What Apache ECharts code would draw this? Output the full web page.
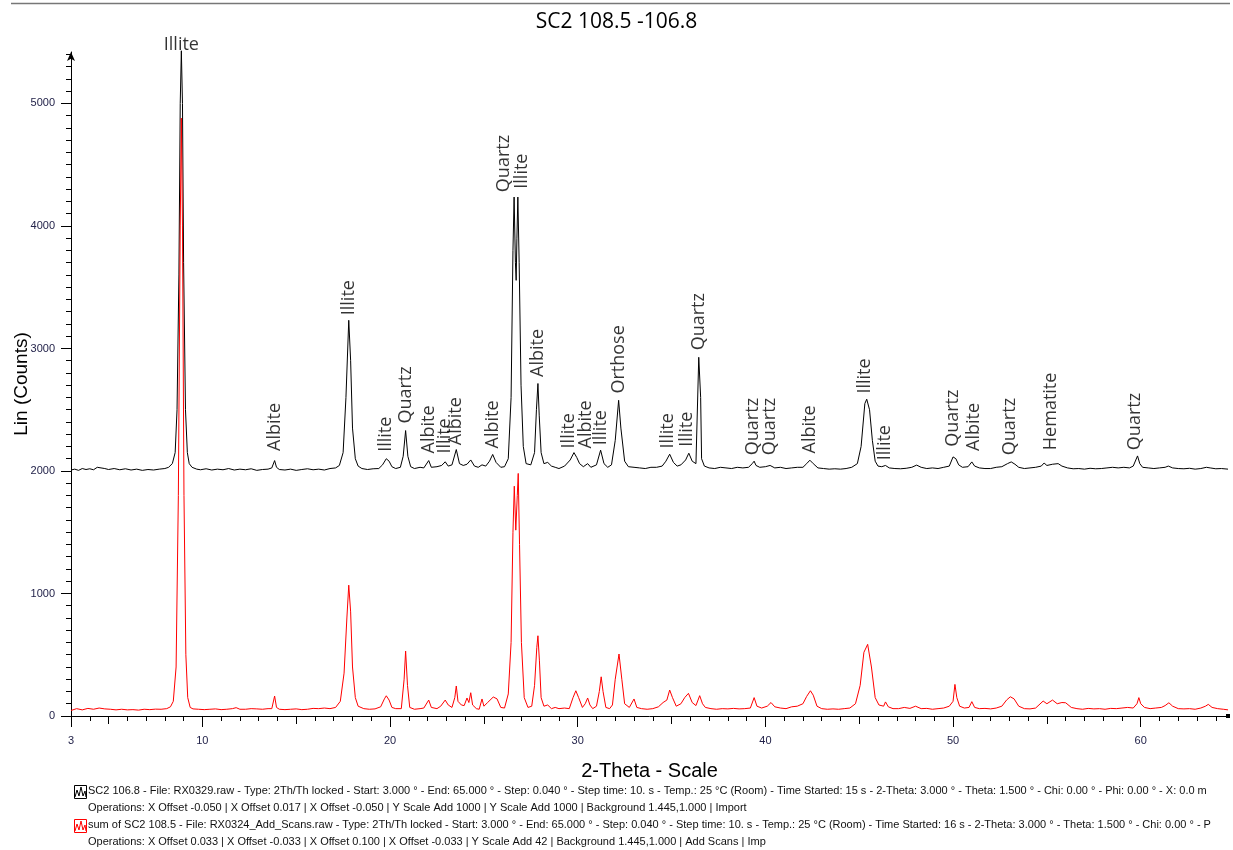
<!DOCTYPE html>
<html>
<head>
<meta charset="utf-8">
<script src="https://cdn.jsdelivr.net/npm/echarts@6/dist/echarts.min.js"></script>
<style>
html,body{margin:0;padding:0;background:#fff;}
#chart{width:1233px;height:850px;}
</style>
</head>
<body>
<div id="chart"></div>
<script>
// ---------- DATA ----------
const chartTitle = 'SC2 108.5 -106.8';
const xName = '2-Theta - Scale';
const yName = 'Lin (Counts)';
const xLabelValues = [3, 10, 20, 30, 40, 50, 60];
const yLabelValues = [0, 1000, 2000, 3000, 4000, 5000];

// SC2 106.8 (offset +2000) : [2-theta, counts]
const blackPoints = [
[3.0,2008],[3.2,2015],[3.4,2005],[3.6,2020],[3.8,2012],[4.0,2018],[4.2,2010],[4.4,2030],[4.5,2045],[4.6,2025],[4.8,2020],[5.0,2012],[5.3,2020],[5.6,2010],[5.9,2018],[6.2,2008],[6.5,2015],[6.8,2005],[7.1,2012],[7.4,2008],[7.7,2015],[8.0,2020],[8.2,2030],[8.4,2060],[8.55,2150],[8.65,2500],[8.75,3600],[8.82,5000],[8.88,5430],[8.94,5000],[9.0,3700],[9.1,2500],[9.2,2150],[9.3,2060],[9.45,2030],[9.7,2015],
[9.9,2010],[10.2,2018],[10.5,2008],[10.8,2015],[11.1,2010],[11.4,2020],[11.7,2008],[12.0,2015],[12.3,2010],[12.6,2018],[12.9,2005],[13.2,2012],[13.5,2015],[13.7,2025],[13.85,2085],[13.95,2030],[14.1,2012],[14.4,2008],[14.7,2015],[15.0,2005],[15.3,2012],[15.6,2018],[15.9,2010],[16.2,2015],[16.5,2008],[16.8,2020],[17.1,2025],[17.3,2045],[17.5,2150],[17.65,2600],[17.8,3230],[17.9,2900],[18.0,2350],[18.15,2100],[18.3,2040],[18.5,2020],[18.8,2012],[19.1,2018],[19.4,2020],[19.6,2050],[19.8,2100],[19.95,2080],[20.1,2035],[20.3,2020],[20.55,2030],[20.7,2120],[20.83,2330],[20.95,2120],[21.1,2035],[21.3,2020],[21.6,2030],[21.8,2025],[22.06,2085],[22.2,2030],[22.5,2035],[22.75,2045],[22.94,2075],[23.1,2040],[23.3,2050],[23.53,2175],[23.7,2060],[23.9,2045],[24.1,2055],[24.3,2090],[24.5,2040],[24.7,2030],[24.9,2050],[25.1,2040],[25.3,2080],[25.47,2135],[25.65,2070],[25.9,2030],[26.1,2035],[26.3,2100],[26.45,2600],[26.55,3800],[26.61,4236],[26.68,3700],[26.72,3556],[26.76,3900],[26.81,4236],[26.88,3700],[26.98,2700],[27.1,2200],[27.25,2060],[27.5,2050],[27.7,2150],[27.8,2500],[27.88,2714],[27.95,2450],[28.05,2150],[28.2,2060],[28.4,2070],[28.6,2040],[28.8,2030],[29.0,2020],[29.3,2040],[29.6,2090],[29.8,2150],[29.95,2110],[30.1,2060],[30.3,2035],[30.53,2060],[30.7,2030],[31.0,2050],[31.22,2170],[31.4,2060],[31.6,2030],[31.8,2050],[32.0,2250],[32.18,2577],[32.3,2350],[32.5,2080],[32.7,2035],[33.0,2030],[33.3,2025],[33.6,2020],[33.9,2030],[34.2,2030],[34.5,2040],[34.7,2080],[34.9,2137],[35.1,2070],[35.3,2040],[35.5,2050],[35.75,2090],[35.92,2145],[36.1,2080],[36.3,2060],[36.45,2928],[36.55,2600],[36.6,2100],[36.75,2040],[37.0,2025],[37.3,2020],[37.6,2030],[37.9,2025],[38.2,2020],[38.5,2030],[38.8,2025],[39.1,2030],[39.3,2060],[39.4,2080],[39.5,2045],[39.7,2030],[40.0,2035],[40.25,2045],[40.5,2025],[40.8,2030],[41.1,2020],[41.4,2025],[41.7,2030],[42.0,2030],[42.2,2060],[42.37,2088],[42.55,2060],[42.8,2025],[43.1,2020],[43.4,2015],[43.7,2018],[44.0,2015],[44.3,2020],[44.6,2030],[44.9,2060],[45.1,2200],[45.3,2550],[45.4,2586],[45.55,2500],[45.7,2250],[45.85,2080],[46.0,2040],[46.2,2035],[46.4,2045],[46.6,2025],[46.9,2020],[47.2,2018],[47.5,2022],[47.8,2030],[48.06,2048],[48.3,2030],[48.6,2020],[48.9,2025],[49.2,2020],[49.5,2030],[49.8,2040],[50.0,2115],[50.05,2129],[50.15,2100],[50.3,2050],[50.5,2030],[50.8,2035],[51.0,2074],[51.15,2040],[51.4,2025],[51.7,2020],[52.0,2020],[52.3,2030],[52.6,2035],[52.9,2060],[53.1,2074],[53.3,2055],[53.5,2030],[53.8,2020],[54.1,2025],[54.4,2030],[54.7,2040],[54.85,2065],[55.0,2045],[55.3,2055],[55.6,2060],[55.8,2040],[56.1,2025],[56.4,2018],[56.7,2020],[57.0,2015],[57.3,2022],[57.6,2018],[57.9,2020],[58.2,2025],[58.5,2030],[58.8,2025],[59.1,2030],[59.4,2025],[59.6,2040],[59.83,2123],[59.95,2060],[60.1,2030],[60.4,2025],[60.7,2020],[61.0,2025],[61.3,2030],[61.47,2040],[61.7,2025],[62.0,2020],[62.3,2018],[62.6,2022],[62.9,2015],[63.2,2020],[63.5,2030],[63.7,2025],[64.0,2018],[64.3,2020],[64.65,2015]
];

// sum of SC2 108.5 : [2-theta, counts]
const redPoints = [
[3.0,45],[3.3,60],[3.6,50],[3.9,62],[4.2,55],[4.5,65],[4.8,58],[5.1,55],[5.4,50],[5.7,55],[6.0,50],[6.3,52],[6.6,48],[6.9,55],[7.2,52],[7.5,56],[7.8,55],[8.1,60],[8.3,75],[8.45,120],[8.6,400],[8.72,1800],[8.82,4000],[8.88,4880],[8.94,4000],[9.02,1800],[9.12,500],[9.22,150],[9.35,70],[9.5,58],[9.8,55],[10.1,52],[10.4,55],[10.7,58],[11.0,52],[11.3,55],[11.6,60],[11.8,68],[12.0,55],[12.3,55],[12.6,60],[12.9,58],[13.2,55],[13.5,60],[13.7,60],[13.85,163],[13.95,70],[14.1,55],[14.4,52],[14.7,55],[15.0,58],[15.3,52],[15.6,55],[15.9,62],[16.2,60],[16.5,65],[16.8,60],[17.1,70],[17.35,120],[17.55,350],[17.7,800],[17.8,1068],[17.9,850],[18.0,400],[18.15,150],[18.3,80],[18.6,60],[18.9,55],[19.2,58],[19.5,75],[19.7,140],[19.8,165],[19.95,130],[20.1,70],[20.3,60],[20.6,60],[20.75,300],[20.83,530],[20.93,250],[21.05,70],[21.3,55],[21.6,60],[21.8,65],[22.06,130],[22.2,70],[22.5,60],[22.7,80],[22.94,130],[23.1,90],[23.3,70],[23.45,150],[23.53,245],[23.62,120],[23.8,90],[23.95,85],[24.1,147],[24.2,110],[24.3,190],[24.4,90],[24.6,60],[24.75,55],[24.9,139],[25.0,80],[25.2,110],[25.5,155],[25.7,140],[25.9,70],[26.1,65],[26.3,180],[26.45,600],[26.55,1500],[26.62,1876],[26.7,1517],[26.78,1800],[26.83,1980],[26.9,1400],[27.0,600],[27.15,150],[27.35,70],[27.55,80],[27.7,250],[27.82,560],[27.88,655],[27.96,450],[28.05,150],[28.2,80],[28.4,90],[28.6,60],[28.8,70],[29.0,60],[29.3,65],[29.55,60],[29.75,150],[29.9,206],[30.05,150],[30.25,70],[30.4,100],[30.53,147],[30.65,90],[30.8,60],[31.0,80],[31.15,200],[31.25,320],[31.35,200],[31.5,70],[31.7,60],[31.85,90],[32.0,300],[32.2,506],[32.35,300],[32.5,100],[32.75,70],[33.0,139],[33.15,70],[33.4,60],[33.7,55],[34.0,60],[34.3,75],[34.55,110],[34.75,130],[34.9,212],[35.05,150],[35.25,80],[35.5,100],[35.7,150],[35.9,185],[36.1,110],[36.3,85],[36.5,166],[36.65,100],[36.8,70],[37.1,60],[37.4,55],[37.7,60],[38.0,58],[38.3,62],[38.6,58],[38.9,60],[39.2,65],[39.4,150],[39.55,80],[39.8,65],[40.1,80],[40.3,110],[40.5,75],[40.8,65],[41.1,60],[41.4,75],[41.7,80],[42.0,100],[42.2,160],[42.4,206],[42.55,170],[42.75,80],[43.0,60],[43.3,55],[43.6,58],[43.9,55],[44.2,60],[44.5,65],[44.8,100],[45.05,250],[45.25,520],[45.45,585],[45.65,400],[45.85,150],[46.05,90],[46.3,80],[46.4,115],[46.55,75],[46.8,60],[47.1,60],[47.4,70],[47.7,62],[48.0,80],[48.3,60],[48.6,62],[48.9,55],[49.2,60],[49.5,65],[49.8,80],[50.0,120],[50.1,258],[50.2,150],[50.35,80],[50.6,65],[50.85,70],[51.0,117],[51.15,70],[51.4,60],[51.7,62],[52.0,58],[52.3,65],[52.6,80],[52.85,130],[53.05,157],[53.25,140],[53.5,80],[53.8,60],[54.1,58],[54.4,65],[54.8,122],[55.0,100],[55.3,130],[55.55,100],[55.8,110],[56.0,108],[56.3,70],[56.6,60],[56.9,55],[57.2,62],[57.5,58],[57.8,60],[58.1,55],[58.4,62],[58.7,60],[59.0,65],[59.3,70],[59.6,65],[59.8,100],[59.9,150],[60.0,100],[60.2,70],[60.5,60],[60.8,65],[61.1,70],[61.3,85],[61.5,108],[61.7,80],[62.0,60],[62.3,58],[62.6,60],[62.9,55],[63.2,65],[63.45,80],[63.6,95],[63.8,70],[64.1,60],[64.4,55],[64.65,50]
];

// phase annotations: 2-theta of label, counts at label foot, mineral
const annotX = [8.88,13.85,17.8,19.8,20.83,22.06,22.94,23.53,25.47,26.08,27.03,27.88,29.53,30.43,31.26,32.19,34.82,35.83,36.47,39.35,40.24,42.37,45.31,46.38,49.98,51.09,53.04,55.21,59.7];
const annotY = [5420,2164,3271,2156,2387,2143,2143,2210,2184,4276,4304,2768,2184,2184,2210,2632,2184,2197,2985,2129,2129,2143,2632,2088,2197,2164,2129,2170,2170];
const annotText = ['Illite','Albite','Illite','Illite','Quartz','Albite','Illite','Albite','Albite','Quartz','Illite','Albite','Illite','Albite','Illite','Orthose','Illite','Illite','Quartz','Quartz','Quartz','Albite','Illite','Illite','Quartz','Albite','Quartz','Hematite','Quartz'];

const legendLines = [
  'SC2 106.8 - File: RX0329.raw - Type: 2Th/Th locked - Start: 3.000 ° - End: 65.000 ° - Step: 0.040 ° - Step time: 10. s - Temp.: 25 °C (Room) - Time Started: 15 s - 2-Theta: 3.000 ° - Theta: 1.500 ° - Chi: 0.00 ° - Phi: 0.00 ° - X: 0.0 m',
  'Operations: X Offset -0.050 | X Offset 0.017 | X Offset -0.050 | Y Scale Add 1000 | Y Scale Add 1000 | Background 1.445,1.000 | Import',
  'sum of SC2 108.5 - File: RX0324_Add_Scans.raw - Type: 2Th/Th locked - Start: 3.000 ° - End: 65.000 ° - Step: 0.040 ° - Step time: 10. s - Temp.: 25 °C (Room) - Time Started: 16 s - 2-Theta: 3.000 ° - Theta: 1.500 ° - Chi: 0.00 ° - P',
  'Operations: X Offset 0.033 | X Offset -0.033 | X Offset 0.100 | X Offset -0.033 | Y Scale Add 42 | Background 1.445,1.000 | Add Scans | Imp'
];
const legendColors = ['#000000', null, '#ff0000', null];

// ---------- CHART ----------
const X_MIN = 3, X_MAX = 64.65, Y_MIN = 0, Y_MAX = 5420;
const chart = echarts.init(document.getElementById('chart'), null, {renderer: 'canvas'});

const range = (a, b, s) => { const r = []; for (let v = a; v <= b + 1e-9; v += s) r.push(+v.toFixed(3)); return r; };
const yMinor = range(100, 5400, 100).filter(v => v % 1000 !== 0);
const xMinor = range(4, 64, 1).filter(v => v % 5 !== 0);
const xMid = range(5, 60, 5).filter(v => v % 10 !== 0);

const tickLabelStyle = {fontFamily: 'Liberation Sans', fontSize: 11, color: '#23234a', formatter: v => String(v)};

const annotData = annotX.map((x, i) => {
  const item = {value: [x, annotY[i]], name: annotText[i]};
  if (annotY[i] >= Y_MAX) {
    item.label = {rotate: 0, position: 'top', align: 'center', verticalAlign: 'bottom', distance: -2};
  }
  return item;
});

const graphics = [
  {type: 'line', shape: {x1: 11, y1: 3.5, x2: 1230, y2: 3.5}, style: {stroke: '#777', lineWidth: 1.5}}
];
const lineY0 = 792, lineDy = 17;
legendLines.forEach((t, i) => {
  const y = lineY0 + i * lineDy;
  graphics.push({type: 'text', left: 88, top: y - 7, style: {text: t, font: '11px "Liberation Sans"', fill: '#111'}});
  if (legendColors[i]) {
    const c = legendColors[i];
    graphics.push({type: 'rect', shape: {x: 74.5, y: y - 6.5, width: 12, height: 13}, style: {fill: 'none', stroke: c, lineWidth: 1}});
    graphics.push({type: 'polyline', shape: {points: [[75, y + 5], [77, y - 2], [79, y + 4], [81, y - 5], [83, y + 4], [85, y - 1], [86, y + 5]]}, style: {fill: 'none', stroke: c, lineWidth: 1}});
  }
});

const option = {
  backgroundColor: '#fff',
  animation: false,
  title: {
    text: chartTitle, left: 'center', top: 7,
    textStyle: {fontFamily: 'Open Sans', fontSize: 21, fontWeight: 'normal', color: '#000'}
  },
  grid: {left: 71, right: 5, top: 52, bottom: 134, containLabel: false, outerBoundsMode: 'none'},
  xAxis: [
    {
      type: 'value', min: X_MIN, max: X_MAX, position: 'bottom',
      name: xName, nameLocation: 'middle', nameGap: 45, nameMoveOverlap: false,
      nameTextStyle: {fontFamily: 'Liberation Sans', fontSize: 20, color: '#000'},
      axisLine: {show: true, symbol: ['none', 'rect'], symbolSize: [4, 4], lineStyle: {color: '#000', width: 1}},
      axisTick: {show: true, length: 11, customValues: xLabelValues, lineStyle: {color: '#000'}},
      axisLabel: {show: true, customValues: xLabelValues, margin: 19, ...tickLabelStyle},
      splitLine: {show: false}
    },
    {
      type: 'value', min: X_MIN, max: X_MAX, position: 'bottom', offset: 0,
      axisLine: {show: false},
      axisTick: {show: true, length: 5, customValues: xMinor, lineStyle: {color: '#000'}},
      axisLabel: {show: false}, splitLine: {show: false}
    },
    {
      type: 'value', min: X_MIN, max: X_MAX, position: 'bottom', offset: 0,
      axisLine: {show: false},
      axisTick: {show: true, length: 8, customValues: xMid, lineStyle: {color: '#000'}},
      axisLabel: {show: false}, splitLine: {show: false}
    }
  ],
  yAxis: [
    {
      type: 'value', min: Y_MIN, max: Y_MAX, position: 'left',
      name: yName, nameLocation: 'middle', nameGap: 40, nameRotate: 90, nameMoveOverlap: false,
      nameTextStyle: {fontFamily: 'Liberation Sans', fontSize: 19, color: '#000'},
      axisLine: {show: true, symbol: ['none', 'arrow'], symbolSize: [6, 9], lineStyle: {color: '#000', width: 1}},
      axisTick: {show: true, length: 10, customValues: yLabelValues, lineStyle: {color: '#000'}},
      axisLabel: {show: true, customValues: yLabelValues, margin: 16, ...tickLabelStyle},
      splitLine: {show: false}
    },
    {
      type: 'value', min: Y_MIN, max: Y_MAX, position: 'left', offset: 0,
      axisLine: {show: false},
      axisTick: {show: true, length: 5, customValues: yMinor, lineStyle: {color: '#000'}},
      axisLabel: {show: false}, splitLine: {show: false}
    }
  ],
  series: [
    {
      name: 'SC2 106.8', type: 'line', xAxisIndex: 0, yAxisIndex: 0,
      data: blackPoints, showSymbol: false, symbol: 'none', smooth: false,
      lineStyle: {color: '#000', width: 1}, clip: false, z: 2
    },
    {
      name: 'sum of SC2 108.5', type: 'line', xAxisIndex: 0, yAxisIndex: 0,
      data: redPoints, showSymbol: false, symbol: 'none', smooth: false,
      lineStyle: {color: '#ff0000', width: 1}, clip: false, z: 3
    },
    {
      name: 'phases', type: 'scatter', xAxisIndex: 0, yAxisIndex: 0,
      data: annotData, symbolSize: 1, itemStyle: {color: 'rgba(0,0,0,0)'}, silent: true, clip: false, z: 5,
      label: {
        show: true, formatter: p => p.name, position: 'inside', rotate: 90,
        align: 'left', verticalAlign: 'middle',
        fontFamily: 'Open Sans', fontSize: 18, color: '#000'
      }
    }
  ],
  graphic: graphics
};
chart.setOption(option);
</script>
</body>
</html>
